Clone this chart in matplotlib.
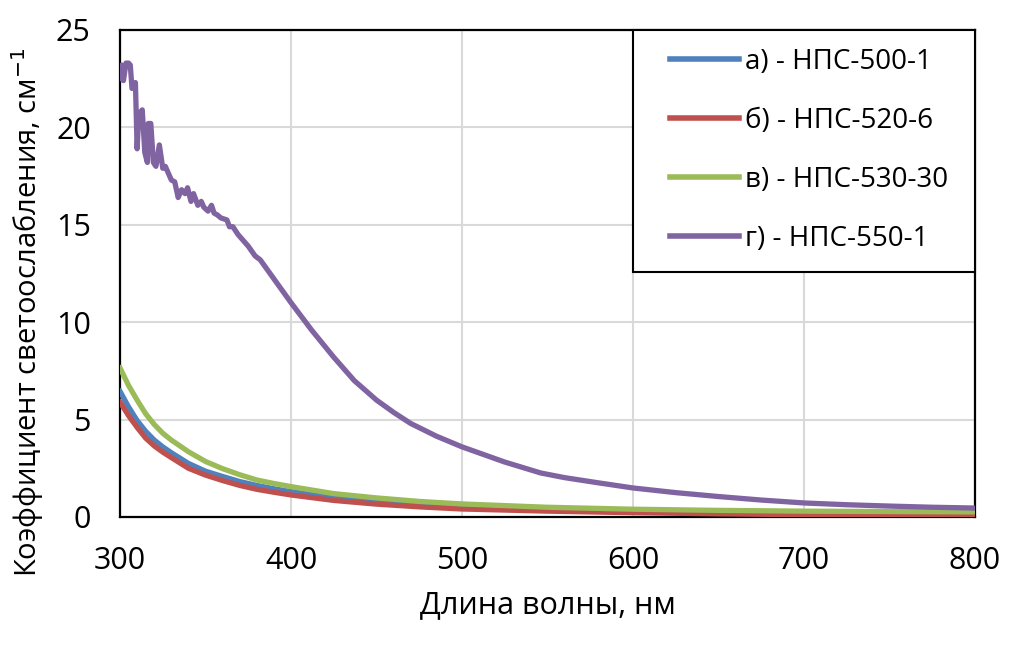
import matplotlib
matplotlib.use('Agg')
import matplotlib.pyplot as plt
from matplotlib.patches import Rectangle

# длины волн и коэффициенты светоослабления (оценка по графику)
wl = [300, 305, 310, 315, 320, 325, 330, 340, 350, 360, 370, 380, 390, 400,
      425, 450, 475, 500, 550, 600, 650, 700, 750, 800]
k_500_1 = [6.45, 5.65, 4.95, 4.4, 3.95, 3.6, 3.3, 2.75, 2.35, 2.08, 1.82, 1.62,
           1.45, 1.30, 1.0, 0.8, 0.64, 0.53, 0.38, 0.3, 0.24, 0.2, 0.17, 0.15]
k_520_6 = [5.9, 5.2, 4.6, 4.05, 3.65, 3.33, 3.05, 2.5, 2.15, 1.87, 1.62, 1.42,
           1.27, 1.13, 0.85, 0.66, 0.52, 0.41, 0.3, 0.22, 0.16, 0.12, 0.08, 0.05]
k_530_30 = [7.65, 6.75, 6.0, 5.3, 4.75, 4.3, 3.95, 3.35, 2.85, 2.48, 2.17, 1.9,
            1.72, 1.56, 1.2, 0.98, 0.8, 0.67, 0.5, 0.4, 0.34, 0.3, 0.28, 0.26]

wl_550 = [300, 301, 302, 303.5, 305, 306, 307, 309, 310, 311, 313, 314.5, 316,
          316.5, 318, 319.5, 321, 323, 325, 326.5, 328, 330, 332, 334, 336,
          338, 339.5, 341.5, 343, 345.5, 347.5, 349, 351.5, 353.5, 355, 357,
          359, 362.5, 364, 366, 369, 372, 375, 379, 382, 391, 400, 412, 425,
          437, 450, 460, 470, 485, 500, 525, 546, 560, 580, 600, 625, 650,
          675, 700, 725, 750, 775, 800]
k_550_1 = [22.5, 23.2, 22.4, 23.3, 23.3, 23.2, 22.0, 22.3, 18.9, 20.7, 20.9,
           18.7, 18.2, 20.2, 20.2, 18.2, 18.0, 19.1, 17.9, 18.0, 17.7, 17.3,
           17.2, 16.4, 16.8, 16.6, 16.9, 16.2, 16.6, 16.0, 16.2, 15.9, 15.7,
           16.0, 15.6, 15.5, 15.35, 15.25, 14.9, 14.9, 14.5, 14.2, 13.9, 13.4,
           13.2, 12.1, 11.0, 9.6, 8.2, 7.0, 6.0, 5.37, 4.8, 4.15, 3.6, 2.82,
           2.26, 2.02, 1.75, 1.49, 1.25, 1.05, 0.87, 0.72, 0.63, 0.56, 0.5,
           0.46]

labels = ['а) - НПС-500-1', 'б) - НПС-520-6', 'в) - НПС-530-30', 'г) - НПС-550-1']
colors = ['#4F81BD', '#C0504D', '#9BBB59', '#8064A2']


def main():
    plt.rcParams['font.family'] = ['Open Sans', 'DejaVu Sans']

    fig = plt.figure(figsize=(10.18, 6.46), dpi=100)
    ax = fig.add_axes([0.1179, 0.1997, 0.8399, 0.7539])

    lw = 3.8
    ax.plot(wl, k_500_1, color=colors[0], lw=lw, label=labels[0], zorder=3)
    ax.plot(wl, k_520_6, color=colors[1], lw=lw, label=labels[1], zorder=3)
    ax.plot(wl, k_530_30, color=colors[2], lw=lw, label=labels[2], zorder=3)
    ax.plot(wl_550, k_550_1, color=colors[3], lw=lw, label=labels[3], zorder=3)

    ax.set_xlim(300, 800)
    ax.set_ylim(0, 25)
    ax.set_xticks(range(300, 801, 100))
    ax.set_yticks(range(0, 26, 5))
    ax.grid(True, color='#d9d9d9', lw=1.5)
    ax.set_axisbelow(True)
    ax.tick_params(length=0, labelsize=22, pad=21)
    for s in ax.spines.values():
        s.set_linewidth(1.6)
        s.set_color('black')

    ax.set_xlabel('Длина волны, нм', fontsize=22, labelpad=10)
    ax.set_ylabel('Коэффициент светоослабления, см$^{-1}$', fontsize=21)
    ax.yaxis.set_label_coords(-0.086, 0.42)

    # рамка легенды
    ax.add_patch(Rectangle((0.6, 0.503), 0.4, 0.497, transform=ax.transAxes,
                           facecolor='white', edgecolor='black', lw=1.5,
                           zorder=4, clip_on=False))
    leg = ax.legend(loc='center left', bbox_to_anchor=(0.643, 0.7526),
                    borderaxespad=0, borderpad=0, fontsize=20, frameon=False,
                    handlelength=2.5, handletextpad=0.2, labelspacing=1.12)
    leg.set_zorder(5)
    for line in leg.get_lines():
        line.set_linewidth(4)

    fig.savefig('out.png', dpi=100)


if __name__ == '__main__':
    main()
